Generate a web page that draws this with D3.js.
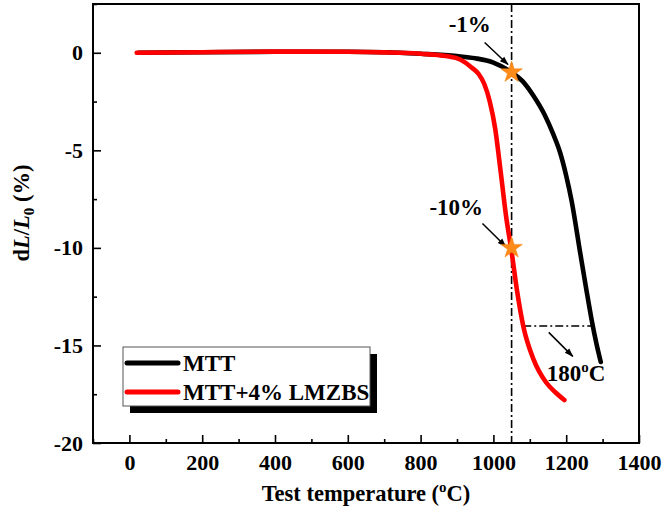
<!DOCTYPE html>
<html><head><meta charset="utf-8">
<script src="https://cdn.jsdelivr.net/npm/d3@7"></script>
<style>
body{margin:0;background:#fff}
text{font-family:"Liberation Serif","Times New Roman",serif;font-weight:bold;fill:#000}
</style>
</head><body>
<svg id="chart" width="665" height="520"></svg>
<script>
// ---- data ----
const xTicks = [0, 200, 400, 600, 800, 1000, 1200, 1400];
const xMinor = [-100, 100, 300, 500, 700, 900, 1100, 1300];
const yTicks = [0, -5, -10, -15, -20];
const yMinor = [2.5, -2.5, -7.5, -12.5, -17.5];
const seriesNames = ["MTT", "MTT+4% LMZBS"];
const seriesColors = ["#000000", "#ff0000"];
const mttT = [25, 200, 400, 600, 700, 800, 900, 950, 1000, 1050, 1080, 1110, 1140, 1165, 1183, 1200, 1215, 1238, 1255, 1270, 1283, 1295];
const mttV = [0, 0.03, 0.05, 0.05, 0.03, -0.05, -0.17, -0.28, -0.5, -1.0, -1.45, -2.2, -3.15, -4.2, -5.1, -6.3, -7.6, -10.2, -12.1, -13.7, -14.9, -15.85];
const lmzT = [20, 200, 400, 600, 700, 800, 870, 910, 940, 960, 975, 990, 1005, 1020, 1035, 1050, 1065, 1082, 1110, 1145, 1170, 1195];
const lmzV = [0, 0.03, 0.06, 0.05, 0.02, -0.05, -0.17, -0.36, -0.75, -1.1, -1.6, -2.5, -3.9, -6.1, -8.4, -10.2, -12.2, -14.0, -15.7, -16.9, -17.4, -17.8];
const markT = [1050, 1050];
const markV = [-1, -10];
const guideT = 1050;
const gapV = -14;
const gapT = [1082, 1270];
const gapLabel = "180";
const annoLabels = ["-1%", "-10%"];
const annoTextT = [935, 898];
const annoTextV = [1.04, -8.3];
const arrowFrom = [[976, 0.53], [970, -8.75], [1152, -14.33]];
const arrowTo = [[1040, -0.6], [1034, -9.93], [1218, -15.56]];
const gapTextPos = [1227, -16.84];

// ---- chart ----
const svg = d3.select("#chart");
const L = 93, R = 639, T = 4, B = 443;
const x = d3.scaleLinear([-100, 1400], [L, R]);
const y = d3.scaleLinear([2.5, -20], [T, B]);

const defs = svg.append("defs");
defs.append("marker").attr("id", "ah").attr("viewBox", "0 0 10 10")
  .attr("refX", 9).attr("refY", 5).attr("markerWidth", 10).attr("markerHeight", 9)
  .attr("markerUnits", "userSpaceOnUse").attr("orient", "auto")
  .append("path").attr("d", "M0,1.5 L10,5 L0,8.5 Z").attr("fill", "#000");

// axes
const fs = 22;
const xAx = svg.append("g").attr("transform", `translate(0,${B})`)
  .call(d3.axisBottom(x).tickValues(xTicks).tickFormat(d3.format("d")).tickSizeInner(-8).tickSizeOuter(0).tickPadding(11));
const xAxm = svg.append("g").attr("transform", `translate(0,${B})`)
  .call(d3.axisBottom(x).tickValues(xMinor).tickFormat("").tickSizeInner(-4).tickSizeOuter(0));
const yAx = svg.append("g").attr("transform", `translate(${L},0)`)
  .call(d3.axisLeft(y).tickValues(yTicks).tickFormat(d3.format("d")).tickSizeInner(-8).tickSizeOuter(0).tickPadding(10));
const yAxm = svg.append("g").attr("transform", `translate(${L},0)`)
  .call(d3.axisLeft(y).tickValues(yMinor).tickFormat("").tickSizeInner(-4).tickSizeOuter(0));
[xAx, xAxm, yAx, yAxm].forEach(g => {
  g.select(".domain").remove();
  g.selectAll("line").attr("stroke", "#000").attr("stroke-width", 1.6);
  g.selectAll("text").attr("font-size", fs).attr("font-family", "Liberation Serif").attr("font-weight", "bold").attr("fill", "#000");
});
yAx.selectAll("text").text(d => String(d));

// curves
const line = d3.line().x(d => x(d[0])).y(d => y(d[1])).curve(d3.curveMonotoneX);
const series = [d3.zip(mttT, mttV), d3.zip(lmzT, lmzV)];

// guide lines (dash-dot)
svg.append("line").attr("x1", x(guideT)).attr("x2", x(guideT)).attr("y1", y(2.5)).attr("y2", y(-20))
  .attr("stroke", "#000").attr("stroke-width", 1.6).attr("stroke-dasharray", "8,3,2,3");
svg.append("line").attr("x1", x(gapT[0])).attr("x2", x(gapT[1])).attr("y1", y(gapV)).attr("y2", y(gapV))
  .attr("stroke", "#000").attr("stroke-width", 1.6).attr("stroke-dasharray", "8,3,2,3");

svg.append("g").selectAll("path").data(series).join("path")
  .attr("d", line).attr("fill", "none")
  .attr("stroke", (d, i) => seriesColors[i]).attr("stroke-width", 4.6)
  .attr("stroke-linecap", "round").attr("stroke-linejoin", "round");

// frame
svg.append("rect").attr("x", L).attr("y", T).attr("width", R - L).attr("height", B - T)
  .attr("fill", "none").attr("stroke", "#000").attr("stroke-width", 2);

// arrows
svg.append("g").selectAll("line").data(d3.zip(arrowFrom, arrowTo)).join("line")
  .attr("x1", d => x(d[0][0])).attr("y1", d => y(d[0][1]))
  .attr("x2", d => x(d[1][0])).attr("y2", d => y(d[1][1]))
  .attr("stroke", "#000").attr("stroke-width", 1.5).attr("marker-end", "url(#ah)");

// stars
svg.append("g").selectAll("path").data(d3.zip(markT, markV)).join("path")
  .attr("d", d3.symbol(d3.symbolStar, 145))
  .attr("transform", d => `translate(${x(d[0])},${y(d[1])})`)
  .attr("fill", "#ff8c1a").attr("stroke", "#f08010").attr("stroke-width", 0.5);

// annotation labels
svg.append("g").selectAll("text").data(annoLabels).join("text")
  .attr("x", (d, i) => x(annoTextT[i])).attr("y", (d, i) => y(annoTextV[i]))
  .attr("text-anchor", "middle").attr("font-size", 23).text(d => d);
const gt = svg.append("text").attr("x", x(gapTextPos[0])).attr("y", y(gapTextPos[1]))
  .attr("text-anchor", "middle").attr("font-size", 23);
gt.append("tspan").text(gapLabel);
gt.append("tspan").attr("dy", -9).attr("font-size", 15).text("o");
gt.append("tspan").attr("dy", 9).text("C");

// axis titles
const xt = svg.append("text").attr("x", (L + R) / 2).attr("y", 501).attr("text-anchor", "middle").attr("font-size", 22.5);
xt.append("tspan").text("Test temperature (");
xt.append("tspan").attr("dy", -9).attr("font-size", 15).text("o");
xt.append("tspan").attr("dy", 9).text("C)");

const yt = svg.append("text").attr("transform", `translate(29,213) rotate(-90)`)
  .attr("text-anchor", "middle").attr("font-size", 22.5);
yt.append("tspan").text("d");
yt.append("tspan").attr("font-style", "italic").text("L");
yt.append("tspan").text("/");
yt.append("tspan").attr("font-style", "italic").text("L");
yt.append("tspan").attr("dy", 5).attr("font-size", 15).text("0");
yt.append("tspan").attr("dy", -5).text(" (%)");

// legend
const lg = svg.append("g").attr("transform", "translate(123,347)");
const lw = 247, lh = 59;
lg.append("rect").attr("x", 7).attr("y", 7).attr("width", lw).attr("height", lh).attr("fill", "#000");
lg.append("rect").attr("x", 0).attr("y", 0).attr("width", lw).attr("height", lh)
  .attr("fill", "#fff").attr("stroke", "#555").attr("stroke-width", 1);
seriesNames.forEach((name, i) => {
  const yy = 16 + i * 29;
  lg.append("line").attr("x1", 4).attr("x2", 55).attr("y1", yy).attr("y2", yy)
    .attr("stroke", seriesColors[i]).attr("stroke-width", 5).attr("stroke-linecap", "round");
  lg.append("text").attr("x", 60).attr("y", yy + 8).attr("font-size", 23).text(name);
});
</script>
</body></html>
